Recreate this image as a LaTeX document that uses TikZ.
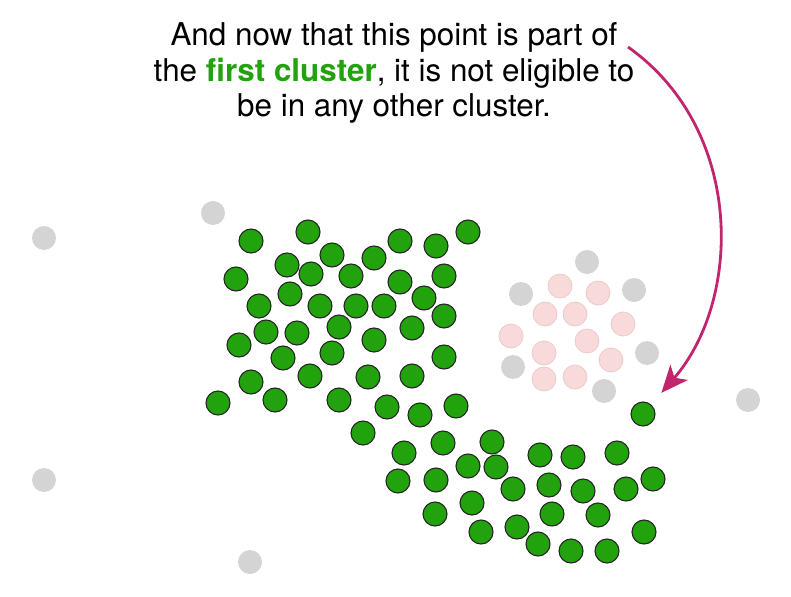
\documentclass[tikz,border=0pt]{standalone}
\usepackage{fontspec}
\setmainfont{TeX Gyre Heros}
\usepackage{tikz}
\usepackage{xcolor}
\usetikzlibrary{arrows.meta}

\definecolor{clgreen}{HTML}{22A30E}
\definecolor{noisegrey}{HTML}{D4D4D4}
\definecolor{otherpink}{HTML}{F9DADA}
\definecolor{pinkline}{HTML}{EDCACA}
\definecolor{arrowpink}{HTML}{C2256E}

\tikzset{
  pt/.style={circle, inner sep=0pt, minimum size=24bp},
  greendot/.style={pt, fill=clgreen, draw=black!85, line width=1.1bp},
  greydot/.style={pt, fill=noisegrey},
  pinkdot/.style={pt, fill=otherpink, draw=pinkline, line width=0.8bp}
}

\begin{document}
\begin{tikzpicture}[x=1bp,y=-1bp]
\useasboundingbox (0,0) rectangle (791,597);

% caption
\node[align=center, font=\fontsize{31.5}{36}\selectfont] (caption) at (394,73)
  {And now that this point is part of\\
   the \textbf{\color{clgreen}first cluster}, it is not eligible to\\
   be in any other cluster.};

% noise points
\foreach \x/\y [count=\i] in {44/238, 213/213, 44/480, 250/562, 748/400,
  587/262, 521/294, 634/290, 647/353, 513/367, 604/391}
  \node[greydot] (n\i) at (\x,\y) {};

% the other cluster
\foreach \x/\y [count=\i] in {560/286, 598/293, 545/314, 575/314, 623/324,
  511/336, 587/341, 544/353, 611/360, 544/379, 575/377}
  \node[pinkdot] (r\i) at (\x,\y) {};

% first cluster
\foreach \x/\y [count=\i] in {251/241, 308/232, 332/255, 374/258, 400/241,
  436/246, 468/232, 287/265, 311/274, 351/276, 236/279, 400/282, 444/276,
  290/294, 259/306, 320/306, 356/306, 384/306, 424/298, 444/316, 266/332,
  297/333, 339/327, 412/328, 239/345, 283/358, 332/353, 374/340, 444/357,
  251/382, 310/376, 368/377, 412/376, 218/403, 275/400, 339/400, 387/407,
  420/415, 456/406, 363/433, 404/453, 443/443, 492/442, 468/466, 496/467,
  540/455, 573/457, 617/453, 398/481, 436/480, 513/489, 549/485, 583/491,
  626/489, 653/479, 435/514, 472/503, 552/514, 598/515, 481/532, 517/527,
  538/544, 571/551, 607/551, 644/532}
  \node[greendot] (g\i) at (\x,\y) {};

% the newly added point
\node[greendot] (p) at (643,414) {};

\coordinate (from) at (628,47);
\draw[arrowpink, line width=2.8bp, -{Stealth[length=27bp,width=23bp,inset=7bp]}, shorten >=28bp]
  (from) .. controls (745,130) and (742,300) .. (p.center);

\end{tikzpicture}
\end{document}
